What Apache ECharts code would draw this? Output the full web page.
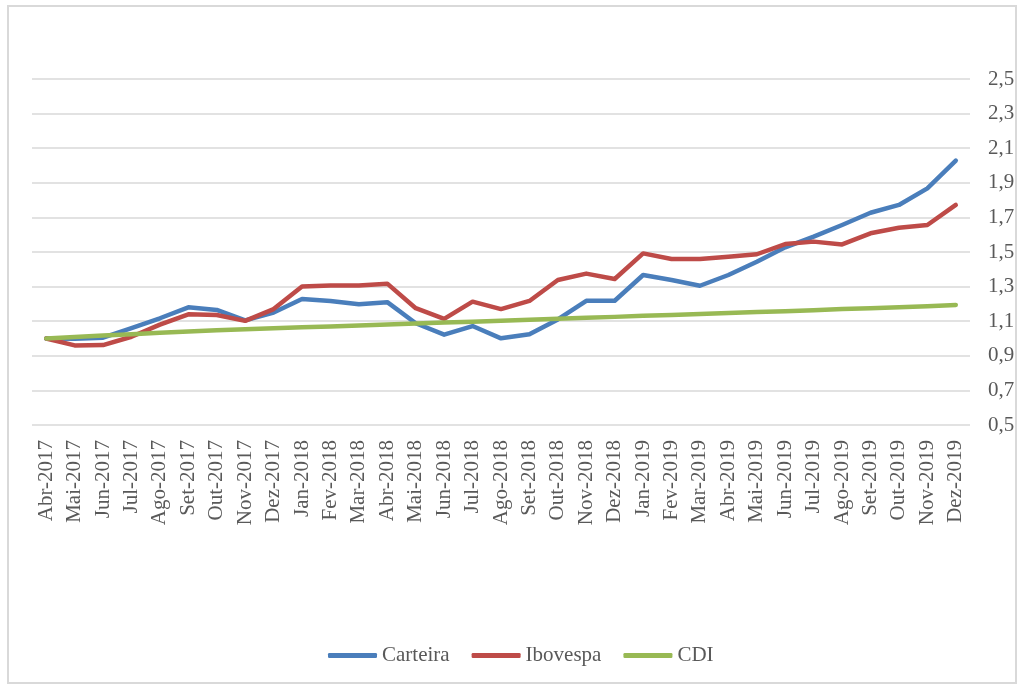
<!DOCTYPE html>
<html>
<head>
<meta charset="utf-8">
<script src="https://cdn.jsdelivr.net/npm/echarts@6/dist/echarts.min.js"></script>
<style>
html,body{margin:0;padding:0;background:#fff;}
#chart{width:1019px;height:687px;}
</style>
</head>
<body>
<div id="chart"></div>
<script>
var categories = ["Abr-2017","Mai-2017","Jun-2017","Jul-2017","Ago-2017","Set-2017","Out-2017","Nov-2017","Dez-2017",
  "Jan-2018","Fev-2018","Mar-2018","Abr-2018","Mai-2018","Jun-2018","Jul-2018","Ago-2018","Set-2018","Out-2018","Nov-2018","Dez-2018",
  "Jan-2019","Fev-2019","Mar-2019","Abr-2019","Mai-2019","Jun-2019","Jul-2019","Ago-2019","Set-2019","Out-2019","Nov-2019","Dez-2019"];
var carteira = [1.000,0.998,1.005,1.060,1.117,1.180,1.165,1.105,1.150,1.228,1.217,1.198,1.210,1.088,1.022,1.072,1.001,1.024,1.110,1.218,1.218,
  1.367,1.338,1.305,1.367,1.444,1.527,1.589,1.656,1.727,1.772,1.868,2.028];
var ibovespa = [1.000,0.960,0.962,1.010,1.080,1.140,1.136,1.102,1.170,1.300,1.307,1.307,1.317,1.175,1.113,1.213,1.170,1.217,1.338,1.375,1.344,
  1.492,1.460,1.460,1.473,1.487,1.546,1.560,1.544,1.608,1.640,1.656,1.772];
var cdi = [1.000,1.009,1.017,1.025,1.033,1.041,1.048,1.054,1.059,1.065,1.070,1.075,1.081,1.086,1.092,1.097,1.103,1.108,1.114,1.120,1.125,
  1.131,1.136,1.141,1.147,1.153,1.158,1.164,1.170,1.175,1.181,1.187,1.194];
var seriesNames = ["Carteira","Ibovespa","CDI"];
var seriesColors = ["#4A7EBB","#BE4B48","#98B954"];

var FONT = "'Liberation Serif','Times New Roman',serif";
var chart = echarts.init(document.getElementById('chart'));
var datasets = [carteira, ibovespa, cdi];
chart.setOption({
  animation: false,
  backgroundColor: '#fff',
  graphic: [{
    type: 'rect',
    shape: {x: 8, y: 6, width: 1008, height: 677},
    style: {fill: 'none', stroke: '#d9d9d9', lineWidth: 2}
  }],
  grid: {left: 32, right: 49, top: 79, bottom: 262},
  legend: {
    left: 323, top: 640,
    itemWidth: 49, itemHeight: 5, itemGap: 22,
    icon: 'roundRect',
    textStyle: {fontFamily: FONT, fontSize: 21, color: '#595959'},
    data: seriesNames
  },
  xAxis: {
    type: 'category',
    data: categories,
    boundaryGap: true,
    axisLine: {show: false},
    axisTick: {show: false},
    axisLabel: {rotate: 90, interval: 0, margin: 15, fontFamily: FONT, fontSize: 21, color: '#595959'}
  },
  yAxis: {
    type: 'value',
    position: 'right',
    min: 0.5, max: 2.5, interval: 0.2,
    axisLine: {show: false},
    axisTick: {show: false},
    splitLine: {lineStyle: {color: '#d9d9d9', width: 1.5}},
    axisLabel: {
      margin: 18, fontFamily: FONT, fontSize: 21, color: '#595959',
      formatter: function (v) { return v.toFixed(1).replace('.', ','); }
    }
  },
  series: seriesNames.map(function (n, i) {
    return {
      name: n, type: 'line', data: datasets[i],
      symbol: 'none', smooth: false,
      lineStyle: {width: 4.5, color: seriesColors[i], cap: 'round', join: 'round'},
      itemStyle: {color: seriesColors[i]}
    };
  })
});
</script>
</body>
</html>
